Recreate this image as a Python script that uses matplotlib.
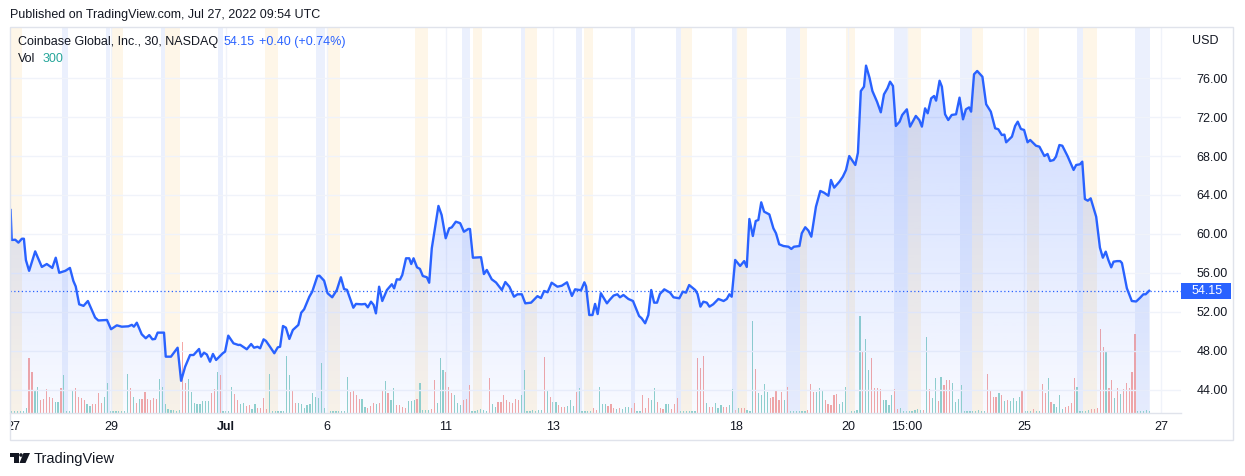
import numpy as np
import matplotlib.pyplot as plt
import matplotlib.transforms as mtransforms
from matplotlib.colors import to_rgb
from matplotlib.patches import Rectangle, Polygon, Circle

plt.rcParams['font.family'] = ['Liberation Sans', 'DejaVu Sans']

# -------- DATA --------
# 30-min closes, time in bar units (0 = first bar, Jun 27)
price_t = [
    -0.4, 0, 1.2, 2.3, 3.5, 4.2, 4.9, 6.0, 8.1, 10.4,
    12.1, 14.0, 15.2, 16.4, 18.5, 20.1, 21.3, 22.1, 23.3, 24.8,
    26.3, 28.8, 29.9, 32.9, 34.3, 36.3, 38.0, 40.3, 41.5, 42.2,
    43.2, 44.9, 46.3, 47.5, 48.6, 49.5, 50.4, 52.6, 53.2, 55.0,
    57.3, 58.5, 59.9, 61.6, 62.8, 64.7, 65.4, 66.4, 67.4, 68.5,
    69.5, 70.6, 72.9, 73.7, 74.8, 76.6, 78.3, 78.9, 81.2, 82.7,
    83.7, 84.9, 85.8, 87.0, 87.8, 89.2, 90.7, 91.9, 92.7, 93.7,
    94.7, 95.9, 97.1, 99.0, 100.0, 101.0, 102.8, 103.8, 105.6, 106.3,
    107.9, 109.1, 110.7, 112.3, 113.7, 114.8, 115.8, 118.0, 118.9, 120.9,
    122.1, 123.0, 124.1, 125.0, 125.8, 126.9, 128.0, 129.6, 131.3, 132.1,
    133.0, 134.1, 134.9, 136.2, 137.3, 138.0, 138.8, 140.0, 141.0, 142.0,
    143.4, 144.2, 145.1, 147.4, 148.5, 149.9, 151.1, 152.0, 153.4, 154.9,
    156.2, 157.7, 158.3, 159.3, 162.1, 163.1, 164.1, 165.8, 167.3, 169.3,
    170.5, 171.9, 173.5, 174.7, 176.2, 177.4, 179.4, 181.6, 182.8, 183.9,
    185.1, 186.5, 188.5, 190.0, 191.8, 193.5, 194.6, 196.1, 196.7, 197.8,
    198.4, 199.5, 200.6, 201.5, 202.4, 203.5, 205.6, 206.5, 207.9, 209.2,
    210.1, 211.3, 213.0, 214.6, 216.7, 217.6, 218.8, 219.9, 220.9, 221.9,
    222.9, 223.9, 225.4, 227.4, 228.6, 230.6, 231.8, 232.9, 234.0, 236.1,
    236.9, 237.9, 238.9, 240.1, 241.0, 242.3, 244.1, 245.9, 247.0, 247.9,
    248.7, 249.9, 251.6, 253.0, 253.9, 254.8, 256.0, 257.0, 257.9, 258.9,
    259.9, 261.7, 263.1, 264.0, 265.1, 266.6, 268.3, 269.3, 270.2, 272.1,
    272.9, 274.1, 275.2, 276.2, 277.8, 279.3, 280.6, 282.1, 283.0, 284.1,
    285.9, 287.1, 288.2, 289.3, 291.4, 292.3, 293.3, 294.4, 295.1, 296.3,
    297.3, 298.9, 300.2, 301.3, 302.5, 303.4, 304.4, 305.4, 306.7, 307.6,
    309.2, 310.3, 312.3, 313.5, 314.4, 315.5, 316.4, 317.6, 318.6, 319.3,
    320.5, 321.3, 322.4, 323.5, 324.7, 326.2, 327.4, 328.6, 329.6, 330.7,
    331.4, 332.4, 333.5, 335.3, 336.6, 338.2, 339.7, 340.8, 342.0, 342.9,
    343.5, 345.5, 346.6, 347.5, 348.6, 349.7, 350.9, 351.8, 353.8, 355.0,
    356.7, 357.8, 358.7, 359.9, 360.7, 361.9, 362.9, 364.7, 366.8, 367.7,
    369.0, 369.8, 370.7, 371.7, 372.7, 374.6, 375.9, 376.9, 377.9, 378.8,
    379.8, 380.6, 381.8, 382.9, 383.5, 385.2, 386.9, 388.4, 389.8, 390.9,
    391.7, 392.9,
]
price = [
    62.45, 59.37, 59.4, 59.1, 59.5, 59.5, 57.3, 56.2, 58.2, 56.6,
    56.9, 56.5, 57.55, 56.0, 56.2, 56.5, 55.15, 54.6, 52.76, 52.6,
    53.1, 51.4, 51.1, 51.15, 50.2, 50.6, 50.46, 50.5, 50.65, 50.46,
    50.87, 49.68, 49.27, 49.6, 49.16, 49.2, 49.85, 49.85, 47.38, 47.38,
    48.3, 44.9, 46.35, 47.55, 47.55, 48.17, 47.38, 47.79, 47.6, 46.86,
    47.66, 47.04, 47.73, 47.9, 49.54, 48.75, 48.58, 48.6, 48.14, 48.68,
    48.3, 48.4, 48.24, 49.16, 49.0, 48.4, 47.73, 48.34, 48.4, 50.53,
    50.36, 49.2, 50.12, 50.64, 51.9, 52.25, 53.54, 54.06, 55.67, 55.7,
    55.19, 53.9, 53.48, 54.23, 55.54, 54.33, 54.25, 52.41, 52.8, 52.76,
    52.8, 52.45, 53.03, 52.7, 51.83, 54.57, 53.1, 54.23, 54.82, 54.4,
    55.33, 55.3, 55.77, 57.49, 57.49, 56.9, 57.49, 56.56, 56.4, 55.67,
    55.54, 54.98, 58.52, 62.87, 61.94, 59.55, 60.57, 60.67, 61.25, 61.1,
    60.22, 60.5, 60.5, 57.55, 57.6, 55.87, 56.29, 55.33, 55.0, 54.23,
    55.05, 54.57, 53.54, 53.79, 53.79, 52.86, 52.93, 53.6, 53.4, 54.13,
    54.0, 54.98, 54.57, 54.67, 55.02, 53.62, 54.3, 54.23, 54.23, 55.02,
    54.6, 51.66, 51.66, 52.8, 51.76, 53.9, 52.86, 53.2, 53.66, 53.79,
    53.48, 53.72, 53.31, 53.1, 51.56, 51.32, 50.81, 51.66, 54.23, 52.93,
    52.93, 53.82, 54.3, 53.96, 53.48, 53.38, 54.06, 53.96, 54.74, 54.23,
    53.82, 52.52, 53.03, 52.93, 52.52, 52.76, 53.31, 53.1, 53.31, 53.79,
    53.54, 57.32, 56.7, 57.2, 56.6, 61.53, 59.78, 61.32, 61.43, 63.24,
    62.28, 62.0, 60.57, 60.06, 58.93, 58.75, 58.68, 58.45, 58.68, 58.75,
    60.06, 60.68, 60.33, 59.71, 62.79, 64.41, 64.23, 63.92, 65.54, 64.75,
    65.36, 65.88, 66.57, 68.0, 67.08, 68.34, 74.68, 75.13, 77.29, 76.05,
    74.68, 73.58, 72.49, 74.34, 74.96, 75.64, 75.2, 71.09, 71.53, 72.22,
    72.8, 71.02, 72.12, 71.7, 71.02, 72.9, 72.39, 73.93, 74.17, 73.69,
    75.74, 75.13, 72.29, 71.7, 72.22, 72.29, 74.0, 71.77, 72.8, 73.0,
    72.56, 76.4, 76.74, 76.15, 73.32, 72.56, 70.85, 70.75, 70.16, 70.2,
    69.41, 69.99, 71.09, 71.53, 70.78, 70.68, 69.41, 69.65, 69.06, 68.96,
    68.0, 68.21, 67.49, 67.59, 67.93, 69.13, 69.06, 68.0, 66.57, 67.08,
    67.15, 67.42, 63.58, 63.41, 63.65, 61.76, 58.58, 57.55, 58.17, 57.32,
    56.56, 57.14, 57.2, 57.2, 57.0, 54.41, 53.1, 53.05, 53.44, 53.79,
    53.79, 54.15,
]

# volume per bar (relative units) and direction: u = up bar, d = down bar
vol = [
    1.5, 1.5, 1.5, 1.5, 2, 5, 54, 41, 22, 26,
    13, 14, 24, 16, 15, 11, 11, 25, 38, 1.5,
    1.5, 23, 25, 16, 15, 13, 9, 7, 9, 9,
    20, 10, 16, 30, 1.5, 1.5, 1.5, 1.5, 1.5, 1.5,
    39, 25, 16, 10, 14, 14, 21, 14, 13, 15,
    14, 34, 26, 9, 4, 3, 3, 2, 3, 70,
    30, 34, 21, 10, 9, 9, 12, 12, 12, 20,
    24, 41, 38, 2, 2, 2, 26, 19, 13, 9,
    10, 7, 8, 4, 9, 5, 5, 15, 4, 39,
    2, 2, 2, 2, 2, 56, 38, 22, 10, 10,
    9, 5,
    8, 9, 20, 16, 15, 49, 5, 3, 1.5, 1.5,
    1.5, 1.5, 1.5, 1.5, 36, 21, 22, 18, 14, 14,
    6, 5, 7, 10, 9, 10, 23, 32, 20, 13,
    25, 8, 8, 6, 5, 12, 12, 13, 14, 30,
    3, 3, 3, 4, 33, 10, 54, 43, 41, 26,
    20, 18, 10, 8, 13, 14, 28, 1.5, 1.5, 3,
    4, 3, 1.5, 35, 9, 6, 11, 11, 18, 13,
    11, 10, 14, 13, 18, 43, 1.5, 1.5, 3, 2,
    3, 3, 55, 22, 16, 11, 11, 8, 6, 6,
    7, 13, 7, 21, 25, 1.5, 1.5, 1.5,
    1.5, 5, 3, 26, 9, 9, 7, 9, 5, 4,
    5, 4, 6, 6, 5, 10, 1.5, 1.5, 18, 5,
    15, 13, 25, 11, 5, 4, 9, 9, 4, 9,
    15, 1.5, 1.5, 1.5, 1.5, 1.5, 1.5, 54, 45, 56,
    10, 6, 6, 10, 5, 8, 6, 6, 8, 24,
    3, 5, 5, 5, 3, 1.5, 91, 44, 20, 18,
    29, 21, 15, 16, 23, 13, 21, 13, 26, 1.5,
    1.5, 1.5, 1.5, 1.5, 1.5, 3, 29, 21, 21, 25,
    23, 13, 9, 8, 18, 19, 9, 11, 26, 1.5,
    1.5, 1.5, 3, 96, 61, 73, 43, 54,
    25, 25, 24, 13, 13, 8, 18, 24, 4, 5,
    1.5, 1.5, 1.5, 1.5, 3, 4, 3, 3, 75, 24,
    15, 35, 12, 36, 28, 33, 33, 30, 11, 14,
    28, 1.5, 1.5, 1.5, 1.5, 1.5, 3, 1.5, 1.5, 39,
    23, 16, 16, 20, 18, 12, 13, 12, 15, 12,
    16, 22, 1.5, 1.5, 1.5, 4, 1.5, 1.5, 29, 20,
    35, 11, 9, 6, 18, 4, 6, 7, 10, 35,
    26, 1.5, 1.5, 1.5, 3, 4, 4, 5, 83, 65,
    60, 25, 33, 15, 25, 19, 24, 30, 25, 41,
    78, 1.5, 1.5, 1.5, 3, 1.5,
]
vol_dir = (
    "uuuuuudduu ddddduuduu uudddduudd dduuuuuuuu udududdddd "
    "duuuuuuuud duuuuuuuud duduuuuddu udduuddddu uuuuuuuddu uu "
    "uuuuuuuuuu uuuuuddddu uddduddudu udddduuudu uuudduuudd "
    "duuuddduuu uuuduudddd dddduuuuuu uududuuddd uuuduuuu "
    "udduuudddu duuudduudd duuddduudd duuuuuuddd udduuudduu "
    "dudduuuduu uudddddudu uuuuuddduu uddddduuuu uuuuduud "
    "ddduuuuddu uuuuuuudud uududdduuu uuuuuuuuud dddududuuu "
    "uduuuduudd uduuuudddd uuuuuddddd uddududddd duuuuu"
).replace(" ", "")

# extended-hours sessions (bar units)
pre_market = [(-0.6, 3.6), (34.3, 38.4), (53.0, 58.1), (87.5, 92.0), (108.9, 113.4),
              (139.3, 143.8), (159.3, 162.5), (177.3, 181.5), (197.7, 200.8),
              (231.2, 235.0), (250.2, 254.0), (272.3, 274.7), (288.2, 291.3),
              (309.6, 314.1), (331.7, 335.5), (350.7, 354.9), (370.1, 374.9)]
post_market = [(17.4, 19.4), (32.6, 34.0), (51.6, 53.0), (71.3, 73.0), (105.1, 108.2),
               (155.5, 158.3), (175.9, 177.3), (194.9, 197.0), (213.9, 215.3),
               (229.5, 231.2), (248.8, 250.2), (267.5, 272.3), (304.8, 309.6),
               (327.6, 331.7), (368.0, 370.1), (388.0, 393.2)]

time_ticks = [0.45, 34.3, 74.0, 108.9, 150.0, 187.0, 250.2, 288.9, 309.3, 349.7, 397.0]
time_labels = ["27", "29", "Jul", "6", "11", "13", "18", "20", "15:00", "25", "27"]

price_ticks = [44, 48, 52, 56, 60, 64, 68, 72, 76]
last_price = 54.15

# -------- STYLE --------
LINE = '#2962ff'
TXT = '#131722'
GRID = '#f0f3fa'
BORDER = '#e0e3eb'
UP = '#92d2cc'
DOWN = '#f5a8a6'

W, H = 1245, 476
fig = plt.figure(figsize=(W / 100, H / 100), dpi=100)
fig.patch.set_facecolor('white')

# pane rect (pixels): x 10..1181, y 27..413
rect = [10 / W, 1 - 413 / H, 1171 / W, 386 / H]
xlim = (-0.6, 403.9)
ylim = (41.59, 81.26)

# background: sessions + volume
ax_bg = fig.add_axes(rect)
ax_bg.set_xlim(*xlim)
ax_bg.set_ylim(0, max(vol) * 3.98)
ax_bg.set_axis_off()
for a, b in pre_market:
    ax_bg.axvspan(a, b, color='#fef6e8', lw=0, zorder=0)
for a, b in post_market:
    ax_bg.axvspan(a, b, color='#ebf0fd', lw=0, zorder=0)
n = min(len(vol), len(vol_dir))
ax_bg.bar(np.arange(n), vol[:n], width=0.42,
          color=[UP if d == 'u' else DOWN for d in vol_dir[:n]], zorder=2)

# price pane
ax = fig.add_axes(rect, sharex=ax_bg)
ax.set_frame_on(False)
ax.set_xlim(*xlim)
ax.set_ylim(*ylim)
for y in price_ticks:
    ax.axhline(y, color=GRID, lw=1, zorder=0.5)
for t in time_ticks[1:]:
    ax.axvline(t, color=GRID, lw=1, zorder=0.5)

# gradient area under the line
rgb = to_rgb(LINE)
grad = np.zeros((256, 1, 4))
grad[:, 0, :3] = rgb
grad[:, 0, 3] = np.linspace(0.24, 0.03, 256)
im = ax.imshow(grad, extent=[price_t[0], price_t[-1], ylim[0], max(price)],
               aspect='auto', origin='upper', zorder=1)
poly = ax.fill_between(price_t, price, ylim[0], color='none', lw=0)
im.set_clip_path(poly.get_paths()[0], transform=ax.transData)

ax.plot(price_t, price, color=LINE, lw=1.7, zorder=3, solid_joinstyle='round')
ax.axhline(last_price, color=LINE, lw=0.9, ls=(0, (1, 2)), zorder=2.5)

ax.set_xticks([])
ax.yaxis.tick_right()
ax.set_yticks(price_ticks)
ax.set_yticklabels([f"{v:.2f}" for v in price_ticks])
ax.tick_params(axis='y', length=0, pad=11, labelsize=9, labelcolor=TXT)

# last price marker on the scale
blend = mtransforms.blended_transform_factory(ax.transAxes, ax.transData)
ax.add_patch(Rectangle((1.0, last_price - 0.82), 50 / 1171, 1.64, transform=blend,
                       facecolor=LINE, edgecolor='none', clip_on=False, zorder=5))
ax.text(1.0094, last_price, f"{last_price:.2f}", transform=blend, ha='left', va='center',
        color='white', fontsize=9, clip_on=False, zorder=6)

# time scale
ax_time = fig.add_axes([10 / W, 1 - 440 / H, 1171 / W, 27 / H])
ax_time.set_xlim(*xlim)
ax_time.set_ylim(0, 1)
ax_time.set_axis_off()
for t, lab in zip(time_ticks, time_labels):
    ax_time.text(t, 0.5, lab, ha='center', va='center', fontsize=9, color=TXT,
                 fontweight='bold' if lab == 'Jul' else 'normal', clip_on=True)

# overlay: frame, header, legend, logo (pixel coords)
ov = fig.add_axes([0, 0, 1, 1], zorder=10)
ov.set_xlim(0, W)
ov.set_ylim(H, 0)
ov.set_axis_off()
ov.add_patch(Rectangle((10, 27), 1223, 413, fill=False, edgecolor=BORDER, lw=1))
ov.plot([10, 1181], [413, 413], color=BORDER, lw=1)

ov.text(10, 15, "Published on TradingView.com, Jul 27, 2022 09:54 UTC",
        fontsize=9, color=TXT, va='center', ha='left')
ov.text(18, 42, "Coinbase Global, Inc., 30, NASDAQ", fontsize=9, color=TXT, va='center')
ov.text(224, 42, "54.15", fontsize=9, color=LINE, va='center')
ov.text(259, 42, "+0.40 (+0.74%)", fontsize=9, color=LINE, va='center')
ov.text(18, 59, "Vol", fontsize=9, color=TXT, va='center')
ov.text(43, 59, "300", fontsize=9, color='#26a69a', va='center')
ov.text(1192, 41, "USD", fontsize=9, color=TXT, va='center')

# TradingView logo
ov.add_patch(Rectangle((10, 453), 8.5, 3.5, color=TXT, lw=0))
ov.add_patch(Rectangle((14, 453), 4.5, 10, color=TXT, lw=0))
ov.add_patch(Circle((21, 455), 1.8, color=TXT, lw=0))
ov.add_patch(Polygon([(23.5, 453), (30, 453), (25.5, 463), (19.5, 463)], color=TXT, lw=0))
ov.text(34, 459, "TradingView", fontsize=10.5, color=TXT, va='center', ha='left')

fig.savefig("out.png", dpi=100, facecolor='white')
